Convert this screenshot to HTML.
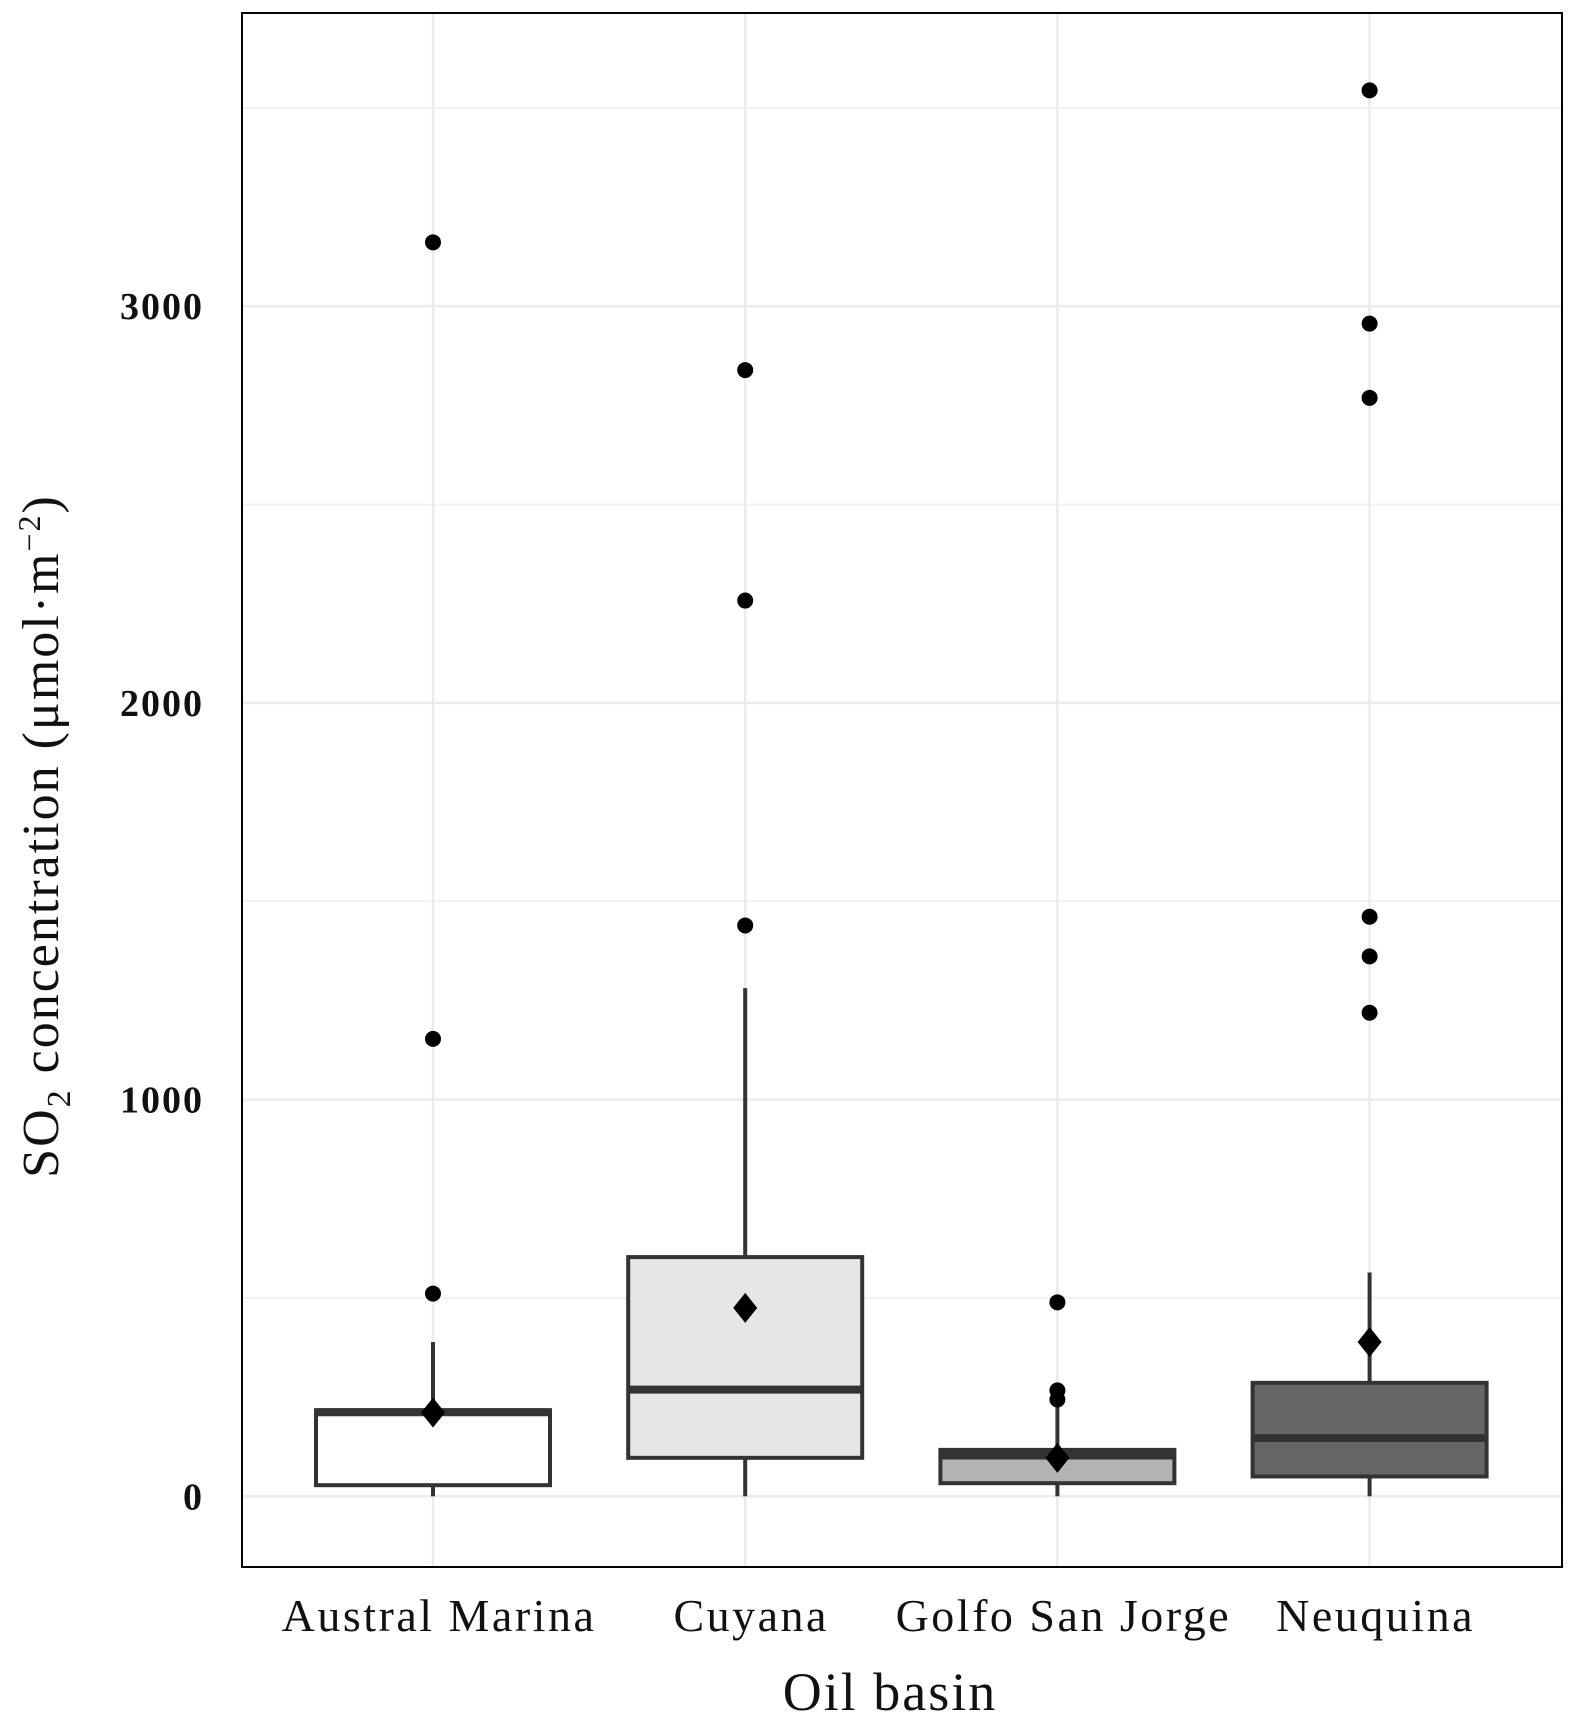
<!DOCTYPE html>
<html><head><meta charset="utf-8"><style>
html,body{margin:0;padding:0;background:#fff}
svg{display:block}
text{font-family:"Liberation Serif",serif;fill:#111}
</style></head><body>
<svg id="chart" width="1574" height="1727">
<g id="grid"></g>
<g id="marks"></g>
<rect x="242" y="13" width="1320" height="1554" fill="none" stroke="#000" stroke-width="2"/>
<g id="axes"></g>
<text x="890" y="1710" text-anchor="middle" font-size="54" letter-spacing="2">Oil basin</text>
<text transform="translate(58,836) rotate(-90)" text-anchor="middle" font-size="52" letter-spacing="2">SO<tspan font-size="34" dy="12">2</tspan><tspan dy="-12"> concentration (μmol·m</tspan><tspan font-size="32" dy="-18">−2</tspan><tspan dy="18">)</tspan></text>
</svg>
<script>
const categories=["Austral Marina","Cuyana","Golfo San Jorge","Neuquina"];
const fills=["#ffffff","#e6e6e6","#b3b3b3","#666666"];
const q1=[28,97,33,50];
const median=[212,269,103,147];
const q3=[217,603,117,286];
const whiskerLow=[0,0,0,0];
const whiskerHigh=[389,1281,267,564];
const means=[211,475,97,389];
const outliers=[[511,1153,3161],[1439,2258,2839],[489,267,244],[1219,1361,1461,2769,2956,3544]];
const yTicks=[0,1000,2000,3000];
const yMinor=[500,1500,2500,3500];

const NS="http://www.w3.org/2000/svg";
const y=v=>1496.3-v*0.3967;
const x=i=>433+i*312.2;
const HW=117;
function mk(tag,attrs,parent){const e=document.createElementNS(NS,tag);for(const k in attrs)e.setAttribute(k,attrs[k]);parent.appendChild(e);return e;}
const grid=document.getElementById('grid'),marks=document.getElementById('marks'),axes=document.getElementById('axes');
yMinor.forEach(v=>{const l=mk('line',{x1:243,x2:1561,y1:y(v),y2:y(v),stroke:'#eeeeee','stroke-width':1.5},grid);

});
yTicks.forEach(v=>{const l=mk('line',{x1:243,x2:1561,y1:y(v),y2:y(v),stroke:'#ebebeb','stroke-width':2.5},grid);


const t=mk('text',{x:204,y:y(v)+13,'text-anchor':'end','font-size':38,'font-weight':'bold','letter-spacing':2},axes);t.textContent=v;

});
categories.forEach((c,i)=>{const l=mk('line',{x1:x(i),x2:x(i),y1:14,y2:1566,stroke:'#ebebeb','stroke-width':2.5},grid);


const t=mk('text',{x:x(i)+6,y:1631,'text-anchor':'middle','font-size':46,'letter-spacing':2.5},axes);t.textContent=c;


const g=mk('g',{},marks);


mk('line',{x1:x(i),x2:x(i),y1:y(whiskerLow[i]),y2:y(q1[i]),stroke:'#333','stroke-width':4},g);
mk('line',{x1:x(i),x2:x(i),y1:y(whiskerHigh[i]),y2:y(q3[i]),stroke:'#333','stroke-width':4},g);
mk('rect',{x:x(i)-HW,y:y(q3[i]),width:2*HW,height:y(q1[i])-y(q3[i]),fill:fills[i],stroke:'#333','stroke-width':4},g);
mk('line',{x1:x(i)-HW,x2:x(i)+HW,y1:y(median[i]),y2:y(median[i]),stroke:'#333','stroke-width':8},g);
outliers[i].forEach(o=>{const d=mk('circle',{cx:x(i),cy:y(o),r:8,fill:'#000'},g);

});
const my=y(means[i]);
const m=mk('polygon',{points:`${x(i)},${my-15} ${x(i)+12},${my} ${x(i)},${my+15} ${x(i)-12},${my}`,fill:'#000'},g);


});
</script>
</body></html>
